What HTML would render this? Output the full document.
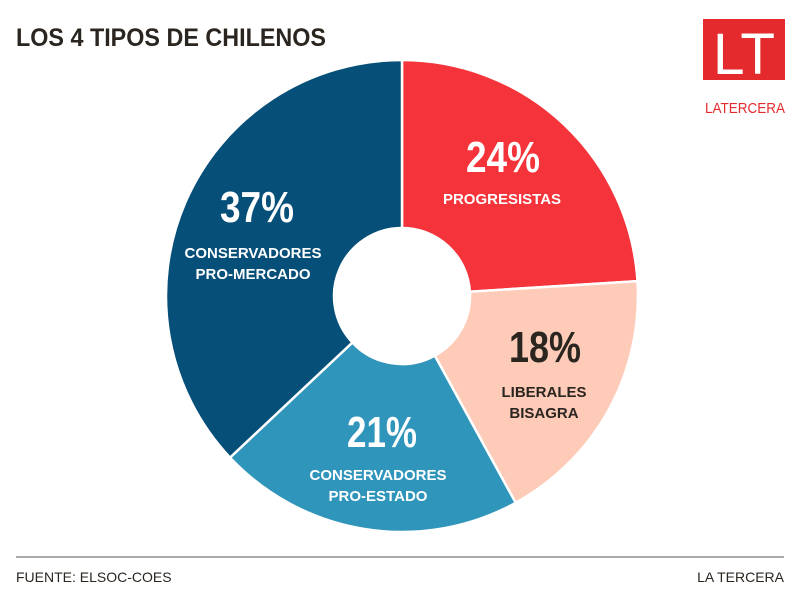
<!DOCTYPE html>
<html><head><meta charset="utf-8"><style>
html,body{margin:0;padding:0;background:#fff;}
svg{display:block}
</style></head><body>
<svg width="800" height="604" viewBox="0 0 800 604" xmlns="http://www.w3.org/2000/svg" font-family="Liberation Sans, sans-serif">
<rect width="800" height="604" fill="#fff"/>
<text x="16" y="46" font-size="25" font-weight="bold" fill="#2b2520" textLength="310" lengthAdjust="spacingAndGlyphs">LOS 4 TIPOS DE CHILENOS</text>
<rect x="703" y="19" width="82" height="61" fill="#e42a2d"/>
<text x="744" y="74" font-size="58" fill="#fff" text-anchor="middle" textLength="62" lengthAdjust="spacingAndGlyphs">LT</text>
<text x="745" y="113" font-size="15" fill="#e42a2d" text-anchor="middle" textLength="80" lengthAdjust="spacingAndGlyphs">LATERCERA</text>
<g stroke="#fff" stroke-width="2.5" stroke-linejoin="round">
<path d="M402,60 A236,236 0 0 1 637.5,281.2 L469.9,291.7 A68,68 0 0 0 402,228 Z" fill="#f5333a"/>
<path d="M637.5,281.2 A236,236 0 0 1 515.7,502.8 L434.8,355.6 A68,68 0 0 0 469.9,291.7 Z" fill="#fdcbb8"/>
<path d="M515.7,502.8 A236,236 0 0 1 230.0,457.6 L352.4,342.5 A68,68 0 0 0 434.8,355.6 Z" fill="#2f95bb"/>
<path d="M230.0,457.6 A236,236 0 0 1 402,60 L402,228 A68,68 0 0 0 352.4,342.5 Z" fill="#064f78"/>
</g>
<g font-weight="bold" text-anchor="middle">
<text x="503" y="172" font-size="44" fill="#fff" textLength="74" lengthAdjust="spacingAndGlyphs">24%</text>
<text x="502" y="204" font-size="15" fill="#fff">PROGRESISTAS</text>
<text x="257" y="222" font-size="44" fill="#fff" textLength="74" lengthAdjust="spacingAndGlyphs">37%</text>
<text x="253" y="258" font-size="15" fill="#fff">CONSERVADORES</text>
<text x="253" y="279" font-size="15" fill="#fff">PRO-MERCADO</text>
<text x="545" y="362" font-size="44" fill="#2b2520" textLength="72" lengthAdjust="spacingAndGlyphs">18%</text>
<text x="544" y="397" font-size="15" fill="#2b2520">LIBERALES</text>
<text x="544" y="418" font-size="15" fill="#2b2520">BISAGRA</text>
<text x="382" y="447" font-size="44" fill="#fff" textLength="70" lengthAdjust="spacingAndGlyphs">21%</text>
<text x="378" y="480" font-size="15" fill="#fff">CONSERVADORES</text>
<text x="378" y="501" font-size="15" fill="#fff">PRO-ESTADO</text>
</g>
<line x1="16" y1="557" x2="784" y2="557" stroke="#555" stroke-width="1"/>
<text x="16" y="582" font-size="14" fill="#2b2520">FUENTE: ELSOC-COES</text>
<text x="784" y="582" font-size="14" fill="#2b2520" text-anchor="end">LA TERCERA</text>
</svg>
</body></html>
